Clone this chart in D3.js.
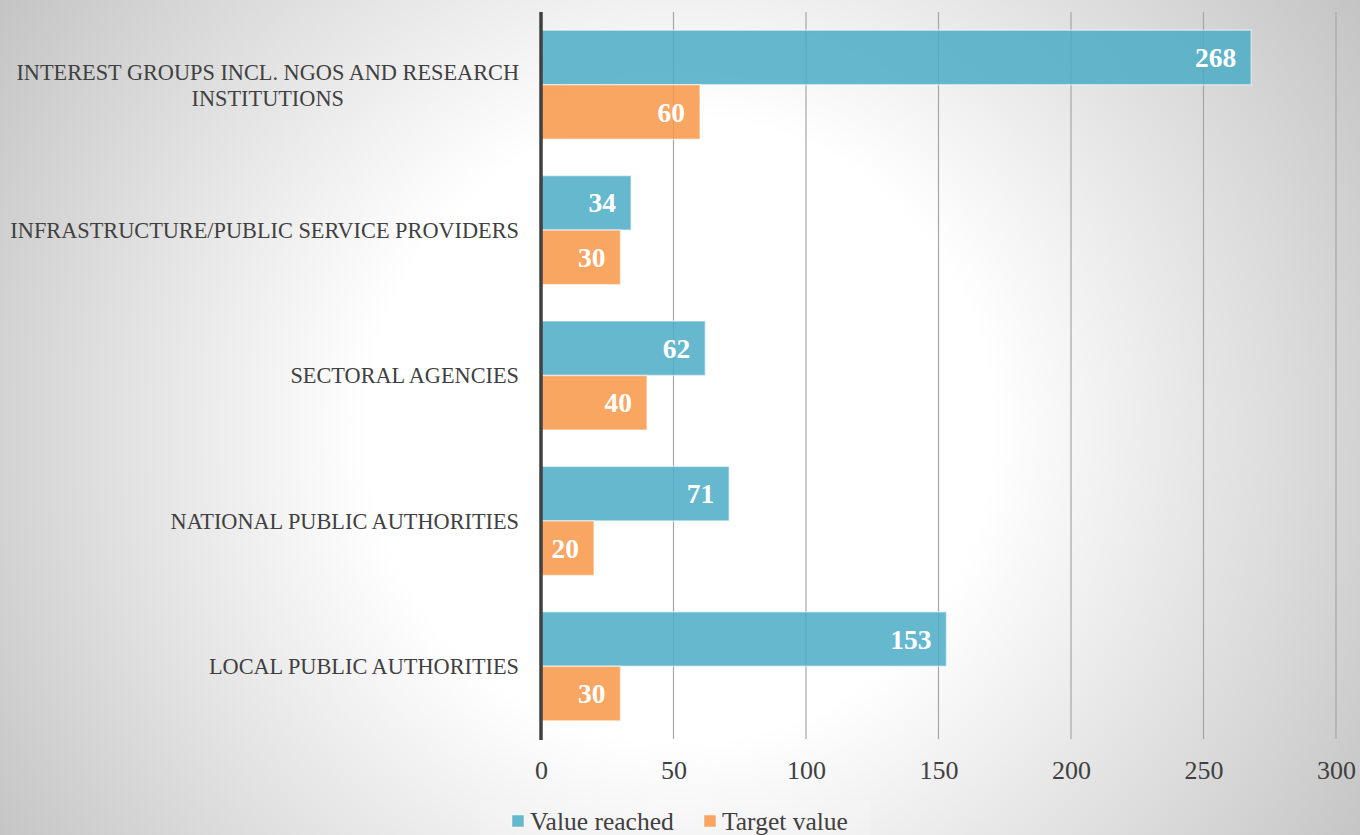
<!DOCTYPE html>
<html>
<head>
<meta charset="utf-8">
<script src="https://cdn.jsdelivr.net/npm/d3@7"></script>
<style>
  html, body { margin: 0; padding: 0; background: #fff; }
  svg { display: block; }
</style>
</head>
<body>
<svg id="chart" width="1360" height="835"></svg>
<script>
const categories = [
  ["INTEREST GROUPS INCL. NGOS AND RESEARCH", "INSTITUTIONS"],
  ["INFRASTRUCTURE/PUBLIC SERVICE PROVIDERS"],
  ["SECTORAL AGENCIES"],
  ["NATIONAL PUBLIC AUTHORITIES"],
  ["LOCAL PUBLIC AUTHORITIES"]
];
const seriesNames = ["Value reached", "Target value"];
const valueReached = [268, 34, 62, 71, 153];
const targetValue = [60, 30, 40, 20, 30];
const xTicks = [0, 50, 100, 150, 200, 250, 300];
const colors = ["#4BACC6", "#F79646"];

const svg = d3.select("#chart");
const W = 1360, H = 835;
const defs = svg.append("defs");
const grad = defs.append("radialGradient").attr("id", "bg")
  .attr("gradientUnits", "userSpaceOnUse")
  .attr("cx", 680).attr("cy", 430).attr("r", 820);
grad.append("stop").attr("offset", 0).attr("stop-color", "#ffffff");
grad.append("stop").attr("offset", 0.38).attr("stop-color", "#ffffff");
grad.append("stop").attr("offset", 1).attr("stop-color", "#c2c2c2");
svg.append("rect").attr("width", W).attr("height", H).attr("fill", "url(#bg)");

const x = d3.scaleLinear().domain([0, 300]).range([541, 1336]);
const keys = categories.map((c, i) => i);
const y = d3.scaleBand().domain(keys).range([12, 739]).paddingInner(0.25).paddingOuter(0.125);
const ySub = d3.scaleBand().domain([0, 1]).range([0, y.bandwidth()]);

const font = "'Liberation Serif', 'Times New Roman', serif";

// gridlines
svg.append("g").selectAll("line").data(xTicks.filter(d => d > 0)).join("line")
  .attr("x1", d => x(d)).attr("x2", d => x(d))
  .attr("y1", 12).attr("y2", 739)
  .attr("stroke", "#a6a6a6").attr("stroke-width", 1.2);

// bars
const data = [];
keys.forEach(i => {
  data.push({ cat: i, s: 0, v: valueReached[i] });
  data.push({ cat: i, s: 1, v: targetValue[i] });
});
const barG = svg.append("g");
barG.selectAll("rect").data(data).join("rect")
  .attr("x", x(0))
  .attr("y", d => y(d.cat) + ySub(d.s))
  .attr("width", d => x(d.v) - x(0))
  .attr("height", ySub.bandwidth())
  .attr("fill", d => colors[d.s])
  .attr("fill-opacity", 0.85)
  .attr("stroke", "#ffffff").attr("stroke-opacity", 0.5).attr("stroke-width", 1.5);

barG.selectAll("text").data(data).join("text")
  .attr("x", d => x(d.v) - 15)
  .attr("y", d => y(d.cat) + ySub(d.s) + ySub.bandwidth() / 2)
  .attr("dy", "0.35em")
  .attr("text-anchor", "end")
  .attr("font-family", font).attr("font-weight", "bold").attr("font-size", 27.5)
  .attr("fill", "#ffffff")
  .text(d => d.v);

// axis line
svg.append("line").attr("x1", x(0)).attr("x2", x(0)).attr("y1", 12).attr("y2", 740)
  .attr("stroke", "#404040").attr("stroke-width", 3.5);

// x tick labels
const xAxis = d3.axisBottom(x).tickValues(xTicks).tickSize(0).tickPadding(0);
const xg = svg.append("g").attr("transform", "translate(0,761)").call(xAxis);
xg.select(".domain").remove();
xg.selectAll("text").attr("font-family", font).attr("font-size", 26).attr("fill", "#404040").attr("dy", "0.71em");

// category labels
const labG = svg.append("g");
categories.forEach((lines, i) => {
  const cy = y(i) + y.bandwidth() / 2;
  const t = labG.append("text")
    .attr("text-anchor", "middle")
    .attr("font-family", font).attr("font-size", 22.3).attr("fill", "#404040");
  const n = lines.length;
  lines.forEach((ln, k) => {
    t.append("tspan").attr("x", 0).attr("y", cy + (k - (n - 1) / 2) * 26).attr("dy", "0.35em").text(ln);
  });
  const bb = t.node().getBBox();
  t.attr("transform", `translate(${519 - bb.width / 2},0)`);
});

// legend
const lg = svg.append("g");
lg.append("rect").attr("x", 480).attr("y", 800).attr("width", 390).attr("height", 40)
  .attr("fill", "#ffffff").attr("fill-opacity", 0.15);
const legendItems = [{ name: seriesNames[0], c: colors[0], x: 512 }, { name: seriesNames[1], c: colors[1], x: 704 }];
legendItems.forEach(d => {
  lg.append("rect").attr("x", d.x).attr("y", 815).attr("width", 12).attr("height", 12)
    .attr("fill", d.c).attr("fill-opacity", 0.85).attr("stroke", "#fff").attr("stroke-opacity", 0.5);
  lg.append("text").attr("x", d.x + 18).attr("y", 830)
    .attr("font-family", font).attr("font-size", 25.5).attr("fill", "#404040").text(d.name);
});
</script>
</body>
</html>
